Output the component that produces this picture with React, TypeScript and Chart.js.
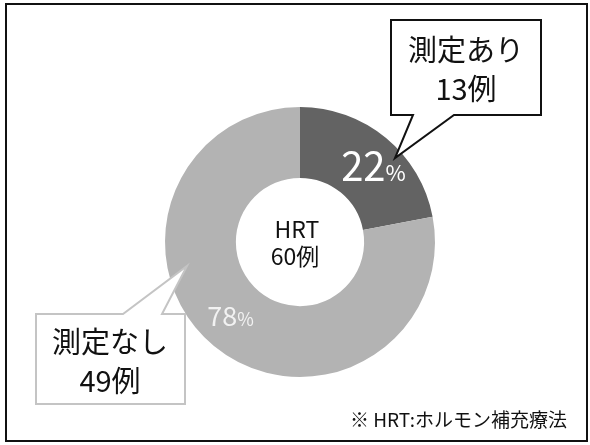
import React, { useEffect, useRef } from "react";
import { Chart, registerables } from "chart.js";

Chart.register(...registerables);

const categories = ["測定あり", "測定なし"];
const percents = [22, 78];
const counts = [13, 49];
const centerLines = ["HRT", "60例"];
const footnote = "※ HRT:ホルモン補充療法";

const segmentColors = ["#636363", "#b3b3b3"];
const FONT = '"Noto Sans CJK JP", "Noto Sans", sans-serif';

function drawCallout(
  ctx: CanvasRenderingContext2D,
  box: { l: number; t: number; r: number; b: number },
  side: "top" | "bottom",
  baseL: number,
  baseR: number,
  tip: [number, number],
  stroke: string,
  lines: string[],
  lineYs: number[],
  cx: number
) {
  ctx.save();
  ctx.beginPath();
  if (side === "bottom") {
    ctx.moveTo(box.l, box.t);
    ctx.lineTo(box.r, box.t);
    ctx.lineTo(box.r, box.b);
    ctx.lineTo(baseR, box.b);
    ctx.lineTo(tip[0], tip[1]);
    ctx.lineTo(baseL, box.b);
    ctx.lineTo(box.l, box.b);
  } else {
    ctx.moveTo(box.l, box.t);
    ctx.lineTo(baseL, box.t);
    ctx.lineTo(tip[0], tip[1]);
    ctx.lineTo(baseR, box.t);
    ctx.lineTo(box.r, box.t);
    ctx.lineTo(box.r, box.b);
    ctx.lineTo(box.l, box.b);
  }
  ctx.closePath();
  ctx.fillStyle = "#ffffff";
  ctx.fill();
  ctx.lineWidth = 2;
  ctx.lineJoin = "miter";
  ctx.strokeStyle = stroke;
  ctx.stroke();
  ctx.fillStyle = "#111111";
  ctx.font = `29px ${FONT}`;
  ctx.textAlign = "center";
  ctx.textBaseline = "middle";
  lines.forEach((s, i) => ctx.fillText(s, cx, lineYs[i]));
  ctx.restore();
}

const overlayPlugin = {
  id: "overlay",
  afterDraw(chart: any) {
    const ctx: CanvasRenderingContext2D = chart.ctx;
    const meta = chart.getDatasetMeta(0);
    const arcs = meta.data;

    // percentage labels
    ctx.save();
    ctx.textBaseline = "alphabetic";
    ctx.textAlign = "left";
    const labelStyles = [
      { big: 40, small: 22, dx: 10, dy: 16, color: "#ffffff" },
      { big: 27, small: 18, dx: -6, dy: 7, color: "#f2f2f2" },
    ];
    arcs.forEach((arc: any, i: number) => {
      const p = arc.tooltipPosition();
      const st = labelStyles[i];
      const num = String(percents[i]);
      ctx.font = `${st.big}px ${FONT}`;
      const w1 = ctx.measureText(num).width;
      ctx.font = `${st.small}px ${FONT}`;
      const w2 = ctx.measureText("%").width;
      const x0 = p.x + st.dx - (w1 + w2) / 2;
      const by = p.y + st.dy;
      ctx.fillStyle = st.color;
      ctx.font = `${st.big}px ${FONT}`;
      ctx.fillText(num, x0, by);
      ctx.font = `${st.small}px ${FONT}`;
      ctx.fillText("%", x0 + w1, by);
    });
    ctx.restore();

    // center text
    const c = arcs[0];
    ctx.save();
    ctx.fillStyle = "#111111";
    ctx.font = `23px ${FONT}`;
    ctx.textAlign = "center";
    ctx.textBaseline = "middle";
    ctx.fillText(centerLines[0], c.x - 3, c.y - 13);
    ctx.fillText(centerLines[1], c.x - 5, c.y + 14);
    ctx.restore();

    // callouts
    drawCallout(
      ctx,
      { l: 391, t: 20, r: 541, b: 115 },
      "bottom",
      413,
      454,
      [395, 158],
      "#111111",
      [categories[0], `${counts[0]}例`],
      [50, 89],
      466
    );
    drawCallout(
      ctx,
      { l: 36, t: 314, r: 185, b: 404 },
      "top",
      123,
      162,
      [187, 266],
      "#c4c4c4",
      [categories[1], `${counts[1]}例`],
      [342, 381],
      110
    );

    // footnote
    ctx.save();
    ctx.fillStyle = "#111111";
    ctx.font = `19px ${FONT}`;
    ctx.textAlign = "right";
    ctx.textBaseline = "middle";
    ctx.fillText(footnote, 567, 420);
    ctx.restore();

    // frame
    ctx.save();
    ctx.strokeStyle = "#111111";
    ctx.lineWidth = 2;
    ctx.strokeRect(6, 4, 581, 437);
    ctx.restore();
  },
};

export default function App() {
  const ref = useRef<HTMLCanvasElement | null>(null);
  useEffect(() => {
    if (!ref.current) return;
    const chart = new Chart(ref.current, {
      type: "doughnut",
      data: {
        labels: categories,
        datasets: [
          {
            data: percents,
            backgroundColor: segmentColors,
            borderWidth: 0,
          },
        ],
      },
      options: {
        responsive: false,
        animation: false,
        cutout: "47.5%",
        layout: { padding: { left: 165, right: 155, top: 107, bottom: 68 } },
        plugins: {
          legend: { display: false },
          tooltip: { enabled: false },
        },
      },
      plugins: [overlayPlugin],
    });
    return () => chart.destroy();
  }, []);
  return (
    <div
      style={{
        position: "fixed",
        left: 0,
        top: 0,
        width: 590,
        height: 445,
        background: "#ffffff",
      }}
    >
      <canvas ref={ref} width={590} height={445} style={{ display: "block" }} />
    </div>
  );
}
